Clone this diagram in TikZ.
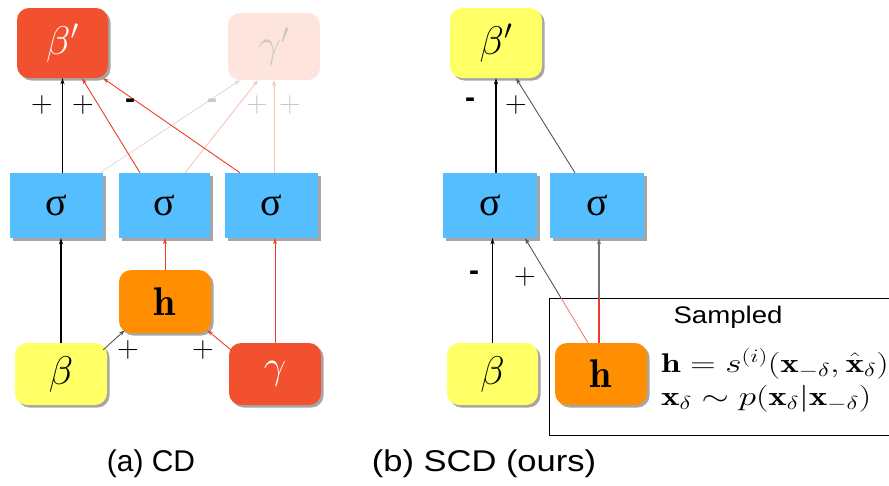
\RequirePackage{fix-cm}
\documentclass[tikz,border=0pt]{standalone}
\usepackage{graphicx}
\usepackage{fontspec}
\newfontfamily\capfont{Liberation Sans}
\newfontfamily\grk{Liberation Serif}
\usetikzlibrary{shadows,calc,arrows.meta}
\definecolor{redfill}{HTML}{F2512F}
\definecolor{fadefill}{HTML}{FDE5DD}
\definecolor{sigblue}{HTML}{55BEFF}
\definecolor{orangefill}{HTML}{FF8F00}
\definecolor{yellowfill}{HTML}{FFFF66}
\definecolor{redline}{HTML}{EE3B2A}
\definecolor{pinkline}{HTML}{F8C3B5}
\definecolor{greyline}{HTML}{DADADA}
\definecolor{fadetext}{HTML}{C9C9C9}
\definecolor{darkline}{HTML}{555555}
\begin{document}
\begin{tikzpicture}[x=1pt,y=-1pt,
  box/.style={draw=none, minimum width=92pt, minimum height=64pt, inner sep=0pt},
  shad/.style={drop shadow={shadow xshift=2.5pt,shadow yshift=-2.5pt,fill=black,opacity=0.35}},
  rbox/.style={box, rounded corners=12pt, shad},
  sbox/.style={box, fill=sigblue, minimum height=65pt, shad, font=\grk\fontsize{40}{40}\selectfont},
  bigm/.style={font=\fontsize{40}{40}\selectfont},
  tip/.style={-{Stealth[length=6pt,width=4pt]}},
  blk/.style={tip, line width=1.1pt, black},
  redarr/.style={tip, line width=0.9pt, redline},
  pinkarr/.style={tip, line width=0.9pt, pinkline},
  greyarr/.style={tip, line width=0.8pt, greyline},
  darkarr/.style={tip, line width=0.9pt, darkline},
  sgn/.style={font=\fontsize{30}{30}\selectfont, inner sep=0pt},
  dsh/.style={font=\capfont\bfseries\fontsize{30}{30}\selectfont, inner sep=0pt},
  captext/.style={font=\capfont\fontsize{30}{30}\selectfont, inner sep=0pt},
  eqtext/.style={font=\fontsize{27}{30}\selectfont, inner sep=0pt, anchor=base west}
]
\useasboundingbox (0,0) rectangle (889,485);
\clip (0,0) rectangle (889,485);

% ---------- (a) CD ----------
\node[rbox, fill=redfill, minimum width=91pt, minimum height=70pt, text=white, bigm] (bpa) at (62.5,43) {$\beta'$};
\node[box, rounded corners=12pt, fill=fadefill, minimum width=92pt, minimum height=67pt, text=fadetext, bigm] (gpa) at (274,46.5) {$\gamma'$};
\node[sbox, minimum width=93pt] (sa1) at (56.5,205.5) {σ};
\node[sbox, minimum width=91pt] (sa2) at (164.5,205.5) {σ};
\node[sbox, minimum width=93pt] (sa3) at (271.5,205.5) {σ};
\node[rbox, fill=orangefill, minimum width=92pt, minimum height=63pt, bigm] (ha) at (165,301.5) {$\mathbf{h}$};
\node[rbox, fill=yellowfill, minimum width=92pt, minimum height=62pt, bigm] (bta) at (61,374) {$\beta$};
\node[rbox, fill=redfill, minimum width=92pt, minimum height=62pt, text=white, bigm] (ga) at (275,374) {$\gamma$};

\draw[blk] (bta.north) -- (bta.north |- sa1.south);
\draw[blk] (bpa.south |- sa1.north) -- (bpa.south);
\draw[greyarr] ([xshift=43.5pt]sa1.north) -- ([xshift=-34pt]gpa.south);
\draw[pinkarr] ([xshift=20.5pt]sa2.north) -- ([xshift=-16pt]gpa.south);
\draw[pinkarr] (gpa.south |- sa3.north) -- (gpa.south);
\draw[redarr] ([xshift=-24.5pt]sa2.north) -- ([xshift=19.5pt]bpa.south);
\draw[redarr] ([xshift=-31.5pt]sa3.north) -- ([xshift=40.5pt]bpa.south);
\draw[redarr] (ha.north) -- (ha.north |- sa2.south);
\draw[redarr] (ga.north) -- (ga.north |- sa3.south);
\draw[darkarr] ([xshift=-4pt,yshift=-7pt]bta.north east) -- ([xshift=6pt,yshift=3pt]ha.south west);
\draw[redarr] ([xshift=2pt,yshift=-7pt]ga.north west) -- ([xshift=-4pt,yshift=3pt]ha.south east);

\node[sgn] (pa1) at (42,105) {$+$};
\node[sgn] (pa2) at (83,105) {$+$};
\node[dsh] (ma1) at (130,104) {-};
\node[dsh, text=fadetext] (ma2) at (212,104) {-};
\node[sgn, text=fadetext] (pa3) at (257,105) {$+$};
\node[sgn, text=fadetext] (pa4) at (290,105) {$+$};
\node[sgn] (pa5) at (128,350) {$+$};
\node[sgn] (pa6) at (203,350) {$+$};

\node[captext] (capa) at (151,464) {(a) CD};

% ---------- (b) SCD ----------
\node[draw=black, line width=1pt, inner sep=0pt, minimum width=351pt, minimum height=137pt, anchor=north west] (samp) at (549,298) {};
\node[rbox, fill=yellowfill, minimum width=92pt, minimum height=70pt, bigm] (bpb) at (496,43) {$\beta'$};
\node[sbox, minimum width=94pt] (sb1) at (490,205.5) {σ};
\node[sbox, minimum width=94pt] (sb2) at (597,205.5) {σ};
\node[rbox, fill=yellowfill, minimum width=91pt, minimum height=62pt, bigm] (btb) at (492.5,374) {$\beta$};
\node[rbox, fill=orangefill, minimum width=92pt, minimum height=62pt, bigm] (hb) at (601,374) {$\mathbf{h}$};

\draw[blk] (btb.north) -- (btb.north |- sb1.south);
\draw[blk] (bpb.south |- sb1.north) -- (bpb.south);
\draw[darkarr] ([xshift=-22pt]sb2.north) -- ([xshift=20pt]bpb.south);

\coordinate (hs) at ([xshift=-13pt]hb.north);
\coordinate (st) at ([xshift=35pt]sb1.south);
\coordinate (sl) at (samp.north west);
\coordinate (sr) at (samp.north east);
\coordinate (cr) at (intersection of hs--st and sl--sr);
\draw[line width=0.8pt, redline!70] (hs) -- (cr);
\draw[darkarr] (cr) -- (st);
\coordinate (hs2) at ([xshift=-2pt]hb.north);
\draw[line width=1.1pt, redline] (hs2) -- (hs2 |- samp.north);
\draw[tip, line width=1.1pt, black!55] (hs2 |- samp.north) -- (hs2 |- sb2.south);

\node[dsh] (mb1) at (470,103) {-};
\node[sgn] (pb1) at (516,105) {$+$};
\node[dsh] (mb2) at (474,276) {-};
\node[sgn] (pb2) at (525,277) {$+$};

\node[font=\capfont\fontsize{24}{24}\selectfont, inner sep=0pt] (sampl) at (728,317) {\scalebox{1.15}[1]{Sampled}};
\node[eqtext] (eq1) at (661,372)
  {\scalebox{1.3}[1]{$\mathbf{h} = s^{(i)}(\mathbf{x}_{-\delta}, \hat{\mathbf{x}}_{\delta})$}};
\node[eqtext] (eq2) at (661,405)
  {\scalebox{1.3}[1]{$\mathbf{x}_\delta \sim p(\mathbf{x}_\delta|\mathbf{x}_{-\delta})$}};

\node[captext] (capb) at (484,464) {\scalebox{1.15}[1]{(b) SCD (ours)}};
\end{tikzpicture}
\end{document}
